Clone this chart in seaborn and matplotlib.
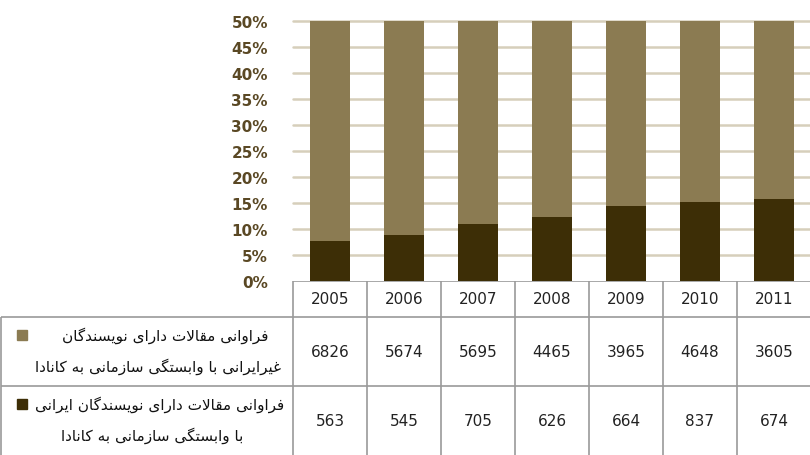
import matplotlib
matplotlib.use("Agg")
import matplotlib.pyplot as plt
import seaborn as sns
import pandas as pd
from matplotlib.patches import Rectangle

years = ['2005', '2006', '2007', '2008', '2009', '2010', '2011']
non_iranian = [6826, 5674, 5695, 4465, 3965, 4648, 3605]
iranian = [563, 545, 705, 626, 664, 837, 674]
y_ticks = [0, 5, 10, 15, 20, 25, 30, 35, 40, 45, 50]

label_non = ['فراوانی مقالات دارای نویسندگان', 'غیرایرانی با وابستگی سازمانی به کانادا']
label_ir = ['فراوانی مقالات دارای نویسندگان ایرانی', 'با وابستگی سازمانی به کانادا']

light = '#8b7b52'
dark = '#3d2e06'
grid_col = '#d6cfbb'
line_col = '#9a9a9a'

# matplotlib has no arabic shaping, so pick presentation forms by hand
# (isolated, final, initial, medial)
FORMS = {
  'ا': ('\uFE8D', '\uFE8E', None, None),
  'ب': ('\uFE8F', '\uFE90', '\uFE91', '\uFE92'),
  'ت': ('\uFE95', '\uFE96', '\uFE97', '\uFE98'),
  'د': ('\uFEA9', '\uFEAA', None, None),
  'ر': ('\uFEAD', '\uFEAE', None, None),
  'ز': ('\uFEAF', '\uFEB0', None, None),
  'س': ('\uFEB1', '\uFEB2', '\uFEB3', '\uFEB4'),
  'غ': ('\uFECD', '\uFECE', '\uFECF', '\uFED0'),
  'ف': ('\uFED1', '\uFED2', '\uFED3', '\uFED4'),
  'ق': ('\uFED5', '\uFED6', '\uFED7', '\uFED8'),
  'ل': ('\uFEDD', '\uFEDE', '\uFEDF', '\uFEE0'),
  'م': ('\uFEE1', '\uFEE2', '\uFEE3', '\uFEE4'),
  'ن': ('\uFEE5', '\uFEE6', '\uFEE7', '\uFEE8'),
  'ه': ('\uFEE9', '\uFEEA', '\uFEEB', '\uFEEC'),
  'و': ('\uFEED', '\uFEEE', None, None),
  'ی': ('\uFBFC', '\uFBFD', '\uFBFE', '\uFBFF'),
  'ک': ('\uFB8E', '\uFB8F', '\uFB90', '\uFB91'),
  'گ': ('\uFB92', '\uFB93', '\uFB94', '\uFB95'),
}

def joinsNext(c):
  return c in FORMS and FORMS[c][2] is not None

def shape(text):
  out = []
  n = len(text)
  i = 0
  while i < n:
    c = text[i]
    if c not in FORMS:
      out.append(c)
      i += 1
      continue
    jp = i > 0 and joinsNext(text[i-1])
    if c == 'ل' and i+1 < n and text[i+1] == 'ا':
      out.append('\uFEFC' if jp else '\uFEFB')
      i += 2
      continue
    jn = joinsNext(c) and i+1 < n and text[i+1] in FORMS
    iso, fin, ini, med = FORMS[c]
    if jp and jn:
      out.append(med)
    elif jp:
      out.append(fin)
    elif jn:
      out.append(ini)
    else:
      out.append(iso)
    i += 1
  return ''.join(reversed(out))

df = pd.DataFrame({'year': years, 'non': non_iranian, 'ir': iranian})
df['share_ir'] = df['ir'] / (df['ir'] + df['non']) * 100
df['share_all'] = 100.0

sns.set_theme(style='white')
plt.rcParams['font.family'] = ['DejaVu Sans']

W, H = 810, 456
fig = plt.figure(figsize=(8.1, 4.56), dpi=100)

# bar area
x0, colw, top, base = 293, 74, 22, 282
ax = fig.add_axes([x0/W, (H-base)/H, 7*colw/W, (base-top)/H])
sns.barplot(data=df, x='year', y='share_all', color=light, width=0.53,
            saturation=1, linewidth=0, ax=ax, zorder=2)
sns.barplot(data=df, x='year', y='share_ir', color=dark, width=0.53,
            saturation=1, linewidth=0, ax=ax, zorder=3)
ax.set_ylim(0, 50)
ax.set_xlim(-0.5, 6.5)
ax.set_yticks(y_ticks)
ax.set_yticklabels([f'{t}%' for t in y_ticks], fontsize=11, fontweight='bold',
                   color='#5a4824')
ax.tick_params(axis='y', length=0, pad=18)
ax.set_xticks([])
ax.set_xlabel('')
ax.set_ylabel('')
for s in ax.spines.values():
  s.set_visible(False)
for t in y_ticks[1:]:
  ax.axhline(t, color=grid_col, lw=1.8, zorder=1, clip_on=False)

# data table underneath
tb = fig.add_axes([0, 0, 1, (H-base)/H])
tb.set_xlim(-0.5 - x0/colw, -0.5 + (W-x0)/colw)
tb.set_ylim(H-base, 0)
tb.axis('off')
r1, r2 = 36, 105
left_x = -0.5 - x0/colw + 0.02
tb.hlines([r1, r2], left_x, 6.6, color=line_col, lw=1.2)
tb.hlines([0], -0.5, 6.6, color=line_col, lw=1.2)
tb.vlines([i - 0.5 for i in range(8)], 0, H-base, color=line_col, lw=1.2)
tb.vlines([left_x], r1, H-base, color=line_col, lw=1.2)

for i, yr in enumerate(years):
  tb.text(i, r1/2, yr, ha='center', va='center', fontsize=11, color='#222222')
  tb.text(i, (r1+r2)/2, str(non_iranian[i]), ha='center', va='center',
          fontsize=11, color='#222222')
  tb.text(i, (r2+H-base)/2, str(iranian[i]), ha='center', va='center',
          fontsize=11, color='#222222')

def px(x):
  return -0.5 - x0/colw + x/colw

def legendRow(lines, color, y_mid, c1, c2):
  y1, y2 = y_mid - 17, y_mid + 14
  tb.add_patch(Rectangle((px(17), y1 - 5), 10/colw, 10, color=color))
  tb.text(px(c1), y1, shape(lines[0]), ha='center', va='center',
          fontsize=11, color='#111111')
  tb.text(px(c2), y2, shape(lines[1]), ha='center', va='center',
          fontsize=11, color='#111111')

legendRow(label_non, light, (r1+r2)/2, 165, 158)
legendRow(label_ir, dark, (r2+H-base)/2, 160, 152)

fig.savefig('out.png', dpi=100)
